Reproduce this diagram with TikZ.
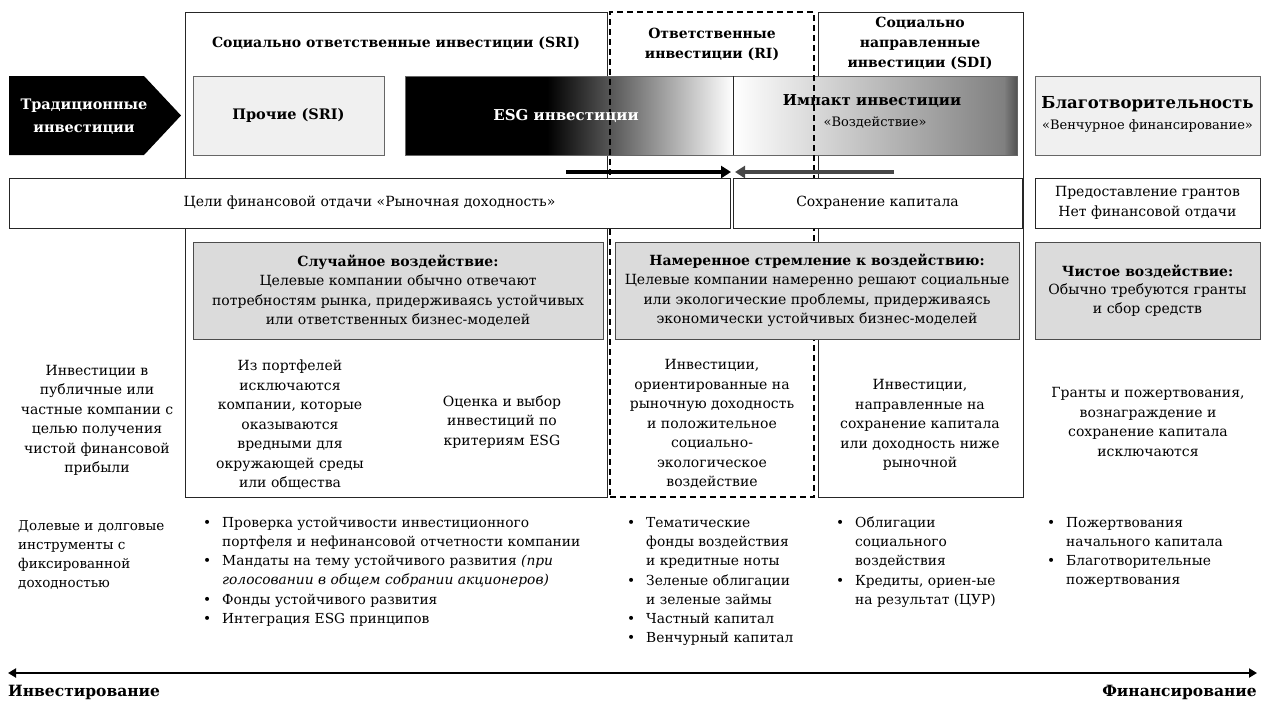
\documentclass[tikz,border=0pt]{standalone}
\usepackage{fontspec}
\setmainfont{DejaVu Serif}
\usetikzlibrary{arrows.meta}
\newcommand{\mybul}{\makebox[19pt][l]{•}}
\newcommand{\myind}{\hspace*{19pt}}
\begin{document}
\begin{tikzpicture}[x=1pt,y=-1pt,
  frame/.style={rectangle, draw=black!85, line width=0.8pt, inner sep=0pt},
  dashframe/.style={rectangle, draw=black, line width=1.6pt, dash pattern=on 6pt off 4pt, inner sep=0pt},
  whitebox/.style={rectangle, draw=black!85, fill=white, line width=0.8pt, inner sep=0pt},
  lightbox/.style={rectangle, draw=black!60, fill=black!6, line width=0.8pt, inner sep=0pt},
  graybox/.style={rectangle, draw=black!70, fill=black!14, line width=0.8pt, inner sep=0pt},
  reg/.style={font=\fontsize{14}{19.5}\selectfont, align=center, inner sep=0pt},
  hd/.style={font=\bfseries\fontsize{14}{20}\selectfont, align=center, inner sep=0pt},
  big/.style={font=\bfseries\fontsize{14.5}{23}\selectfont, align=center, inner sep=0pt},
  bul/.style={font=\fontsize{13.8}{19.2}\selectfont, align=left, inner sep=0pt, anchor=west},
  fatarrow/.style={line width=3.5pt, -{Triangle[length=10pt,width=12pt]}},
]
\useasboundingbox[fill=white] (0,0) rectangle (1264,702);

% big column frames
\node[frame, minimum width=422pt, minimum height=485pt] (sri) at (396,254.5) {};
\node[frame, minimum width=205pt, minimum height=485pt] (sdi) at (920.5,254.5) {};

% gradient bar
\fill[black] (405,76) rectangle (548,155);
\shade[left color=black, right color=white] (547,76) rectangle (733,155);
\shade[left color=white, right color=black!50] (733,76) rectangle (1005,155);
\shade[left color=black!50, right color=black!68] (1004,76) rectangle (1017,155);
\node[rectangle, draw=black!60, line width=0.6pt, minimum width=612pt, minimum height=79pt, inner sep=0pt] (bar) at (711,115.5) {};
\draw[black!85, line width=0.6pt] (733,76) -- (733,155);

% RI dashed frame
\node[dashframe, minimum width=204pt, minimum height=485pt] (ri) at (712,254.5) {};

% titles
\node[hd] (sriT) at (396,43) {Социально ответственные инвестиции (SRI)};
\node[hd] (riT) at (712,44) {Ответственные\\инвестиции (RI)};
\node[hd] (sdiT) at (920,43) {Социально\\направленные\\инвестиции (SDI)};

% traditional arrow
\fill[black] (9,76) -- (144,76) -- (181,115.5) -- (144,155) -- (9,155) -- cycle;
\node[big, text=white] (trad) at (84,116.5) {Традиционные\\инвестиции};

\node[lightbox, big, minimum width=191pt, minimum height=79pt] (proch) at (288.5,115.5) {Прочие (SRI)};

\node[big, text=white, font=\bfseries\fontsize{15}{20}\selectfont] (esg) at (566,116) {ESG инвестиции};
\node[big, font=\bfseries\fontsize{15}{20}\selectfont] (imp1) at (872,101) {Импакт инвестиции};
\node[reg, font=\fontsize{13}{16}\selectfont] (imp2) at (875,123) {«Воздействие»};

\node[lightbox, minimum width=225pt, minimum height=79pt] (blag) at (1147.5,115.5) {};
\node[big, font=\bfseries\fontsize{16.5}{20}\selectfont] (blag1) at (1147.5,104) {Благотворительность};
\node[reg, font=\fontsize{13}{15}\selectfont] (blag2) at (1147.5,126) {«Венчурное финансирование»};

% converging arrows
\coordinate (aL) at (566,172);
\coordinate (aM) at (733,172);
\coordinate (aR) at (894,172);
\draw[fatarrow, black, shorten >=2pt] (aL) -- (aM);
\draw[fatarrow, black!72, shorten >=2pt] (aR) -- (aM);

% return row
\node[whitebox, reg, minimum width=721pt, minimum height=50pt] (goal) at (369.5,203) {Цели финансовой отдачи «Рыночная доходность»};
\node[whitebox, reg, minimum width=289pt, minimum height=50pt] (save) at (877.5,203) {Сохранение капитала};
\node[whitebox, reg, minimum width=225pt, minimum height=50pt, font=\fontsize{14}{20}\selectfont] (grant) at (1147.5,203) {Предоставление грантов\\Нет финансовой отдачи};

% impact boxes
\node[graybox, reg, minimum width=410pt, minimum height=97pt] (rand) at (398,290.5) {\textbf{Случайное воздействие:}\\Целевые компании обычно отвечают\\потребностям рынка, придерживаясь устойчивых\\или ответственных бизнес-моделей};
\node[graybox, reg, minimum width=404pt, minimum height=97pt] (inten) at (817,290.5) {\textbf{Намеренное стремление к воздействию:}\\Целевые компании намеренно решают социальные\\или экологические проблемы, придерживаясь\\экономически устойчивых бизнес-моделей};
\node[graybox, reg, minimum width=225pt, minimum height=97pt, font=\fontsize{14}{18.5}\selectfont] (pure) at (1147.5,290.5) {\textbf{Чистое воздействие:}\\Обычно требуются гранты\\и сбор средств};

% descriptions
\node[reg] (d0) at (97,420.5) {Инвестиции в\\публичные или\\частные компании с\\целью получения\\чистой финансовой\\прибыли};
\node[reg] (d1) at (290,425) {Из портфелей\\исключаются\\компании, которые\\оказываются\\вредными для\\окружающей среды\\или общества};
\node[reg] (d2) at (502,422) {Оценка и выбор\\инвестиций по\\критериям ESG};
\node[reg] (d3) at (712,424) {Инвестиции,\\ориентированные на\\рыночную доходность\\и положительное\\социально-\\экологическое\\воздействие};
\node[reg] (d4) at (920,425) {Инвестиции,\\направленные на\\сохранение капитала\\или доходность ниже\\рыночной};
\node[reg] (d5) at (1148,422) {Гранты и пожертвования,\\вознаграждение и\\сохранение капитала\\исключаются};

% instruments
\node[bul, font=\fontsize{13.5}{19}\selectfont] (dl) at (18,555) {Долевые и долговые\\инструменты с\\фиксированной\\доходностью};
\node[bul] (b1) at (203,571.5) {\mybul Проверка устойчивости инвестиционного\\\myind портфеля и нефинансовой отчетности компании\\\mybul Мандаты на тему устойчивого развития \textit{(при}\\\myind\textit{голосовании в общем собрании акционеров)}\\\mybul Фонды устойчивого развития\\\mybul Интеграция ESG принципов};
\node[bul] (b2) at (627,581.5) {\mybul Тематические\\\myind фонды воздействия\\\myind и кредитные ноты\\\mybul Зеленые облигации\\\myind и зеленые займы\\\mybul Частный капитал\\\mybul Венчурный капитал};
\node[bul] (b3) at (836,562) {\mybul Облигации\\\myind социального\\\myind воздействия\\\mybul Кредиты, ориен-ые\\\myind на результат (ЦУР)};
\node[bul] (b4) at (1047,552.5) {\mybul Пожертвования\\\myind начального капитала\\\mybul Благотворительные\\\myind пожертвования};

% bottom axis
\coordinate (bl) at (8,673);
\coordinate (br) at (1257,673);
\draw[line width=2.5pt, {Triangle[length=8pt,width=9pt]}-{Triangle[length=8pt,width=9pt]}] (bl) -- (br);
\node[anchor=west, font=\bfseries\fontsize{15.5}{18}\selectfont, inner sep=0pt] (inv) at (8,692) {Инвестирование};
\node[anchor=east, font=\bfseries\fontsize{15.5}{18}\selectfont, inner sep=0pt] (fin) at (1257,692) {Финансирование};
\end{tikzpicture}
\end{document}
